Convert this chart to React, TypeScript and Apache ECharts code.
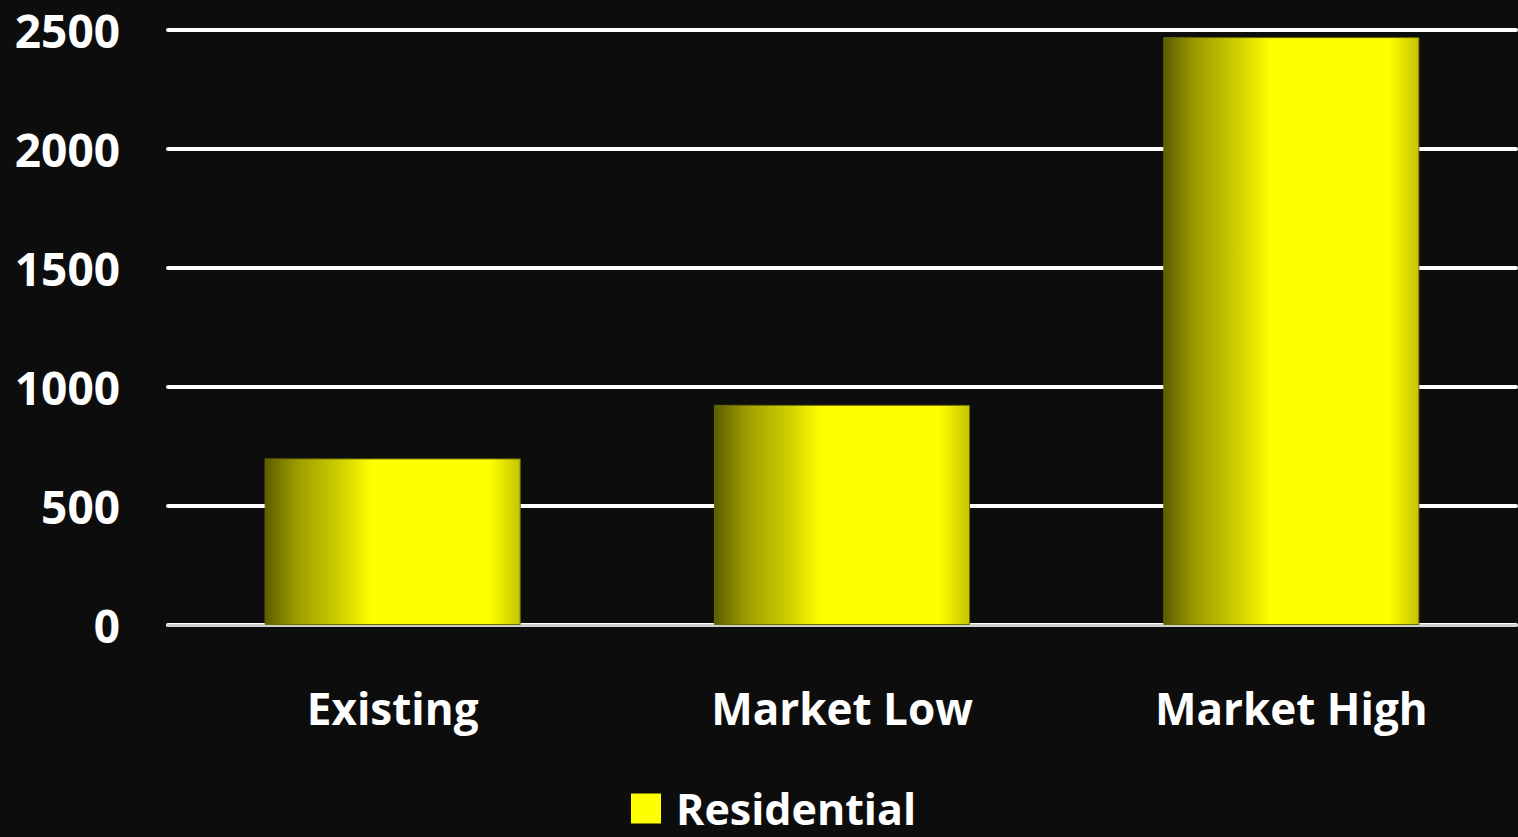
import React, { useEffect, useRef } from "react";
import * as echarts from "echarts";

const categories = ["Existing", "Market Low", "Market High"];
const residential = [700, 925, 2470];
const yTicks = { min: 0, max: 2500, interval: 500 };
const seriesName = "Residential";

export default function App() {
  const ref = useRef<HTMLDivElement>(null);
  useEffect(() => {
    document.body.style.margin = "0";
    document.body.style.background = "#0d0d0d";
    const chart = echarts.init(ref.current!, null, { renderer: "svg" });
    const font = "'Open Sans', 'Noto Sans', sans-serif";
    const gradient = new echarts.graphic.LinearGradient(0, 0, 1, 0, [
      { offset: 0, color: "#5c5c00" },
      { offset: 0.12, color: "#9a9a00" },
      { offset: 0.3, color: "#d2d200" },
      { offset: 0.42, color: "#ffff00" },
      { offset: 0.88, color: "#ffff00" },
      { offset: 1, color: "#c4c400" },
    ]);
    chart.setOption({
      animation: false,
      backgroundColor: "#0d0d0d",
      grid: { left: 168, right: 2, top: 30, bottom: 212, containLabel: false },
      legend: {
        bottom: 2,
        left: 626,
        itemWidth: 30,
        itemHeight: 30,
        itemGap: 10,
        icon: "rect",
        data: [{ name: seriesName, itemStyle: { color: "#ffff00", borderWidth: 0 } }],
        textStyle: {
          color: "#ffffff",
          fontSize: 43,
          fontWeight: "bold",
          fontFamily: font,
          padding: [0, 0, 0, 10],
        },
      },
      xAxis: {
        type: "category",
        data: categories,
        axisLine: { show: true, lineStyle: { color: "#d0d0d0", width: 3 } },
        axisTick: { show: false },
        axisLabel: {
          color: "#ffffff",
          fontSize: 44,
          fontWeight: "bold",
          fontFamily: font,
          margin: 61,
        },
      },
      yAxis: {
        type: "value",
        min: yTicks.min,
        max: yTicks.max,
        interval: yTicks.interval,
        axisLine: { show: false },
        axisTick: { show: false },
        splitLine: { lineStyle: { color: "#ffffff", width: 4, cap: "round" } },
        axisLabel: {
          color: "#ffffff",
          fontSize: 46,
          fontWeight: "bold",
          fontFamily: font,
          margin: 48,
          formatter: (v: number) => String(v),
        },
      },
      series: [
        {
          name: seriesName,
          type: "bar",
          data: residential,
          barWidth: "57%",
          itemStyle: { color: gradient, borderColor: "#6b6b00", borderWidth: 1 },
        },
      ],
    });
    return () => chart.dispose();
  }, []);
  return (
    <div
      ref={ref}
      style={{ position: "absolute", left: 0, top: 0, width: 1518, height: 837 }}
    />
  );
}
